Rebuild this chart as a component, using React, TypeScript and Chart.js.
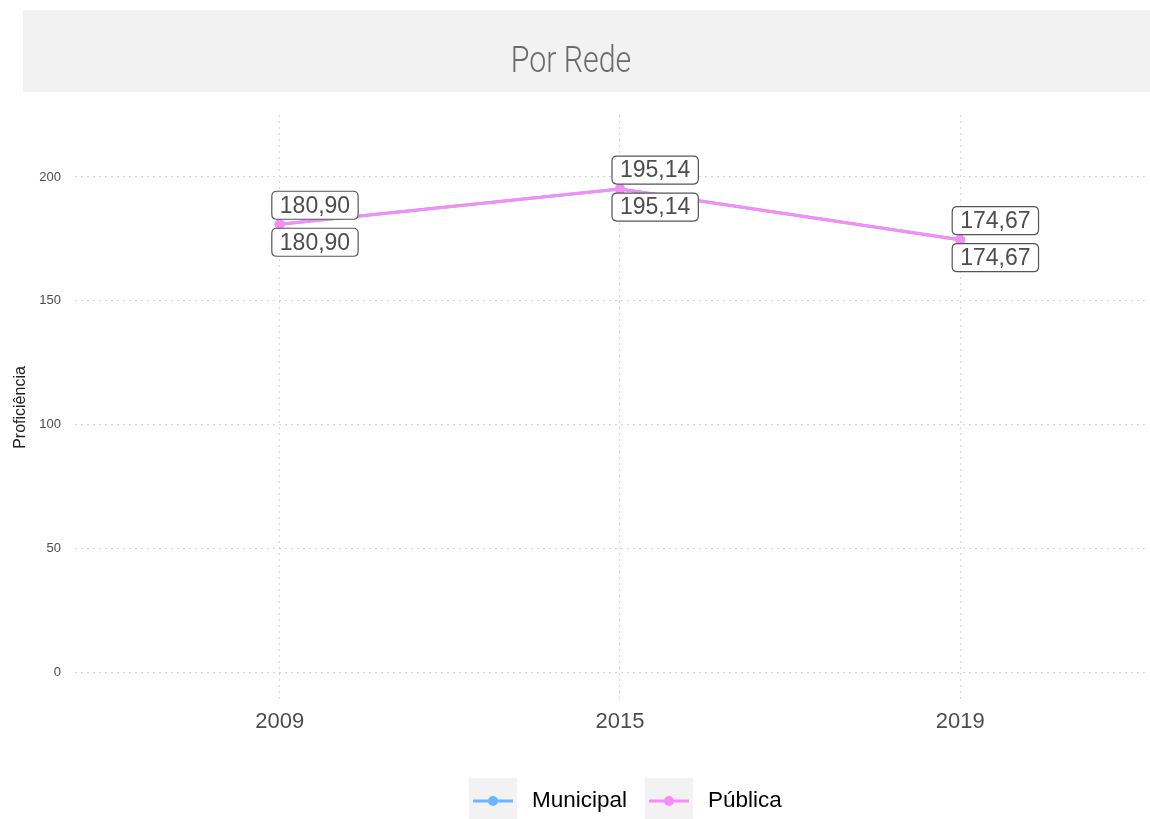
import React, { useEffect, useRef } from "react";
import { Chart, registerables } from "chart.js";

Chart.register(...registerables);

const TITLE = "Por Rede";
const Y_TITLE = "Proficiência";
const CATEGORIES = ["2009", "2015", "2019"];
const SERIES_NAMES = ["Municipal", "Pública"];
const MUNICIPAL = [180.9, 195.14, 174.67];
const PUBLICA = [180.9, 195.14, 174.67];
const Y_TICKS = [0, 50, 100, 150, 200];
const COLORS = ["#6DB6FF", "#F78CF7"];

const fmt = (v: number) => v.toFixed(2).replace(".", ",");

const titlePlugin = {
  id: "titleBand",
  beforeDraw(chart: any) {
    const ctx = chart.ctx;
    ctx.save();
    ctx.fillStyle = "#f2f2f2";
    ctx.fillRect(23, 10, 1127, 82);
    ctx.fillStyle = "#6b6b6b";
    ctx.font = "300 37px Roboto";
    ctx.textAlign = "center";
    ctx.textBaseline = "alphabetic";
    ctx.translate(571, 72);
    ctx.scale(0.82, 1);
    ctx.fillText(TITLE, 0, 0);
    ctx.restore();
  },
};

function roundRect(ctx: any, x: number, y: number, w: number, h: number, r: number) {
  ctx.beginPath();
  ctx.moveTo(x + r, y);
  ctx.lineTo(x + w - r, y);
  ctx.quadraticCurveTo(x + w, y, x + w, y + r);
  ctx.lineTo(x + w, y + h - r);
  ctx.quadraticCurveTo(x + w, y + h, x + w - r, y + h);
  ctx.lineTo(x + r, y + h);
  ctx.quadraticCurveTo(x, y + h, x, y + h - r);
  ctx.lineTo(x, y + r);
  ctx.quadraticCurveTo(x, y, x + r, y);
  ctx.closePath();
}

const labelPlugin = {
  id: "boxLabels",
  afterDatasetsDraw(chart: any) {
    const ctx = chart.ctx;
    ctx.save();
    ctx.font = "23px 'Liberation Sans', Arial, sans-serif";
    ctx.textBaseline = "middle";
    ctx.textAlign = "left";
    chart.data.datasets.forEach((ds: any, di: number) => {
      const meta = chart.getDatasetMeta(di);
      meta.data.forEach((pt: any, i: number) => {
        const v = ds.data[i].y;
        const txt = fmt(v);
        const tw = ctx.measureText(txt).width;
        const w = tw + 16;
        const h = 28;
        const x = pt.x - 8;
        const y = di === 0 ? pt.y - 5 - h : pt.y + 4;
        roundRect(ctx, x, y, w, h, 5);
        ctx.fillStyle = "#ffffff";
        ctx.fill();
        ctx.lineWidth = 1.2;
        ctx.strokeStyle = "#555555";
        ctx.stroke();
        ctx.fillStyle = "#4d4d4d";
        ctx.fillText(txt, x + 8, y + h / 2 + 1);
      });
    });
    ctx.restore();
  },
};

const legendPlugin = {
  id: "customLegend",
  afterDraw(chart: any) {
    const ctx = chart.ctx;
    ctx.save();
    ctx.font = "22.5px 'Liberation Sans', Arial, sans-serif";
    ctx.textBaseline = "middle";
    ctx.textAlign = "left";
    const cy = 801;
    let x = 469;
    chart.data.datasets.forEach((ds: any) => {
      ctx.fillStyle = "#f2f2f2";
      ctx.fillRect(x, 778, 48, 41);
      ctx.strokeStyle = ds.borderColor;
      ctx.lineWidth = 3;
      ctx.beginPath();
      ctx.moveTo(x + 4, cy);
      ctx.lineTo(x + 44, cy);
      ctx.stroke();
      ctx.fillStyle = ds.borderColor;
      ctx.beginPath();
      ctx.arc(x + 24, cy, 5, 0, Math.PI * 2);
      ctx.fill();
      ctx.fillStyle = "#000000";
      const tx = x + 63;
      ctx.fillText(ds.label, tx, cy);
      const tw = ctx.measureText(ds.label).width;
      x = tx + tw + 18;
    });
    ctx.restore();
  },
};

export default function App() {
  const ref = useRef<HTMLCanvasElement | null>(null);
  useEffect(() => {
    if (!ref.current) return;
    const series = [MUNICIPAL, PUBLICA];
    const chart = new Chart(ref.current, {
      type: "line",
      data: {
        datasets: series.map((vals, si) => ({
          label: SERIES_NAMES[si],
          data: vals.map((v, i) => ({ x: i, y: v })),
          borderColor: COLORS[si],
          backgroundColor: COLORS[si],
          borderWidth: 3,
          pointRadius: 5,
          pointHoverRadius: 5,
          pointBorderWidth: 0,
          tension: 0,
          order: si === 0 ? 1 : 0,
        })),
      },
      options: {
        animation: false,
        responsive: false,
        devicePixelRatio: 1,
        layout: { padding: { top: 115, left: 0, right: 0, bottom: 0 } },
        plugins: { legend: { display: false }, title: { display: false }, tooltip: { enabled: false } },
        scales: {
          x: {
            type: "linear",
            min: -0.602,
            max: 2.555,
            afterBuildTicks: (scale: any) => {
              scale.ticks = CATEGORIES.map((_, i) => ({ value: i }));
            },
            afterFit: (scale: any) => {
              scale.height = 119;
            },
            ticks: {
              callback: (v: any) => CATEGORIES[v] ?? "",
              font: { size: 22, family: "'Liberation Sans', Arial, sans-serif" },
              color: "#4d4d4d",
              padding: 9,
              maxRotation: 0,
              autoSkip: false,
            },
            grid: { color: "#d4d4d4", lineWidth: 1, drawTicks: false },
            border: { display: false, dash: [2, 4] },
          },
          y: {
            min: -11.31,
            max: 225.05,
            afterBuildTicks: (scale: any) => {
              scale.ticks = Y_TICKS.map((v) => ({ value: v }));
            },
            afterFit: (scale: any) => {
              scale.width = 75;
            },
            ticks: {
              font: { size: 13, family: "'Liberation Sans', Arial, sans-serif" },
              color: "#4d4d4d",
              padding: 14,
            },
            grid: { color: "#d4d4d4", lineWidth: 1, drawTicks: false },
            border: { display: false, dash: [2, 4] },
            title: {
              display: true,
              text: Y_TITLE,
              font: { size: 16, family: "'Liberation Sans', Arial, sans-serif" },
              color: "#222222",
              padding: { top: 11, bottom: 0 },
            },
          },
        },
      },
      plugins: [titlePlugin, labelPlugin, legendPlugin],
    });
    return () => chart.destroy();
  }, []);
  return (
    <div style={{ position: "absolute", left: 0, top: 0, width: 1150, height: 819, overflow: "hidden", background: "#ffffff" }}>
      <canvas ref={ref} width={1154} height={819} style={{ display: "block" }} />
    </div>
  );
}
